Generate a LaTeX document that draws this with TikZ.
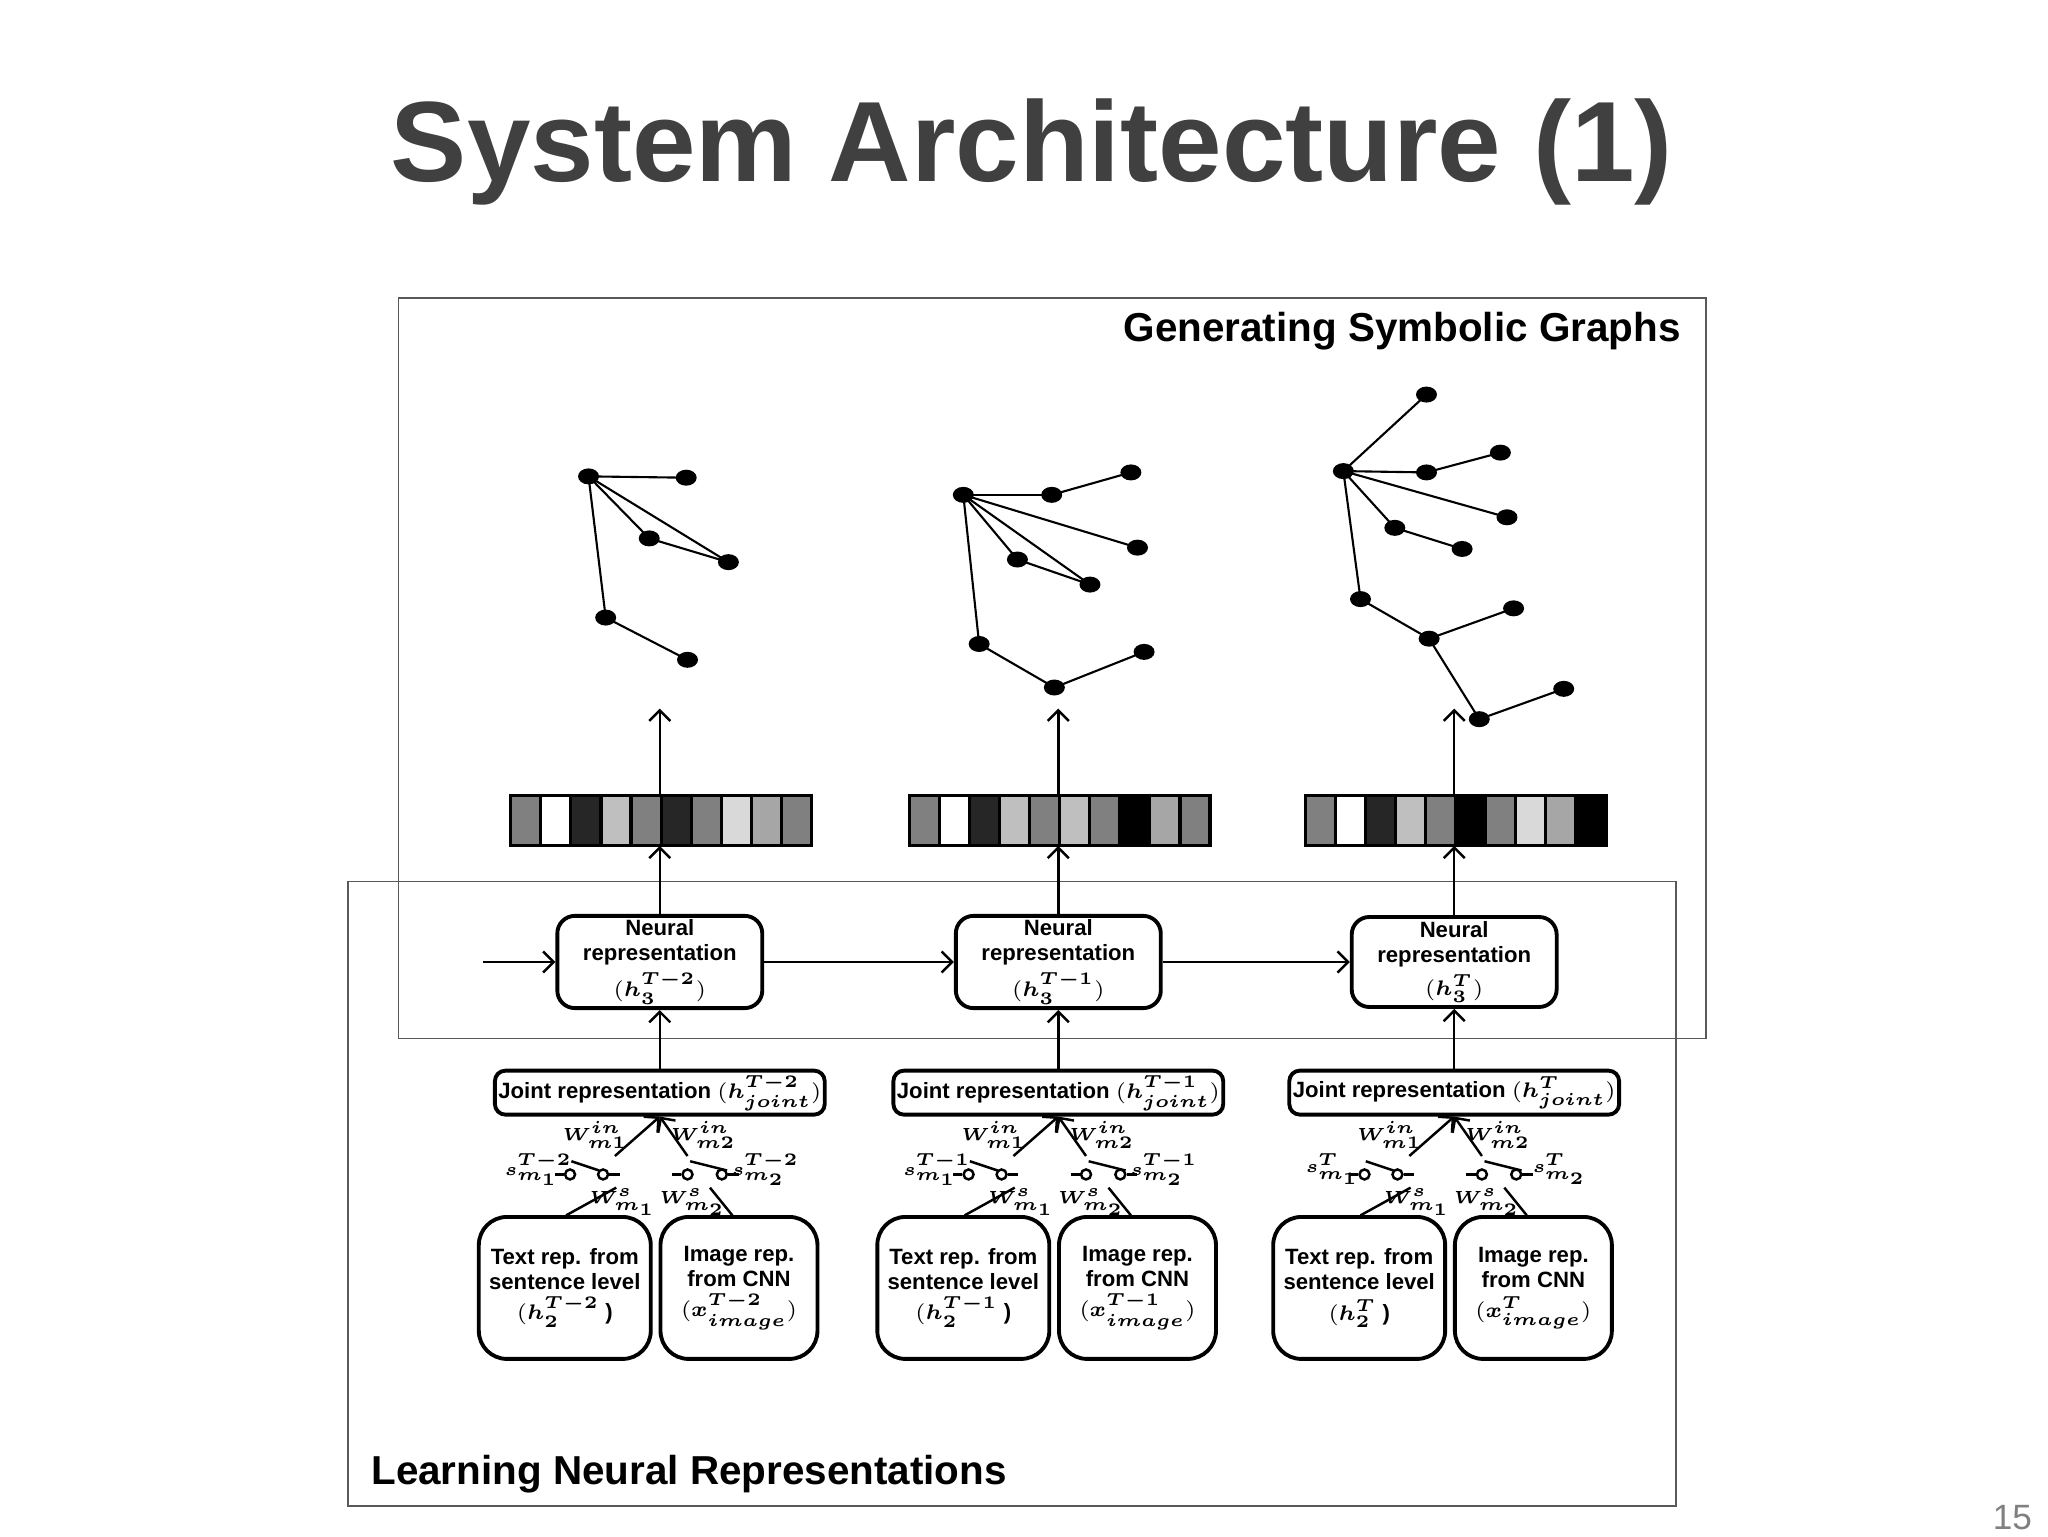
\documentclass[tikz,border=0pt]{standalone}
\usepackage{bm}
\usepackage{amsmath}
\usepackage{fontspec}
\setmainfont{Liberation Sans}
\usetikzlibrary{shapes.geometric}
\tikzset{>=latex}
\definecolor{titlegray}{RGB}{64,64,64}
\tikzset{
    rbox/.style={draw, line width=1.1pt, rounded corners=5pt, align=center, inner sep=1pt,
        font=\fontsize{6.3}{7.1}\selectfont\bfseries},
    gnode/.style={ellipse, fill=black, inner sep=0pt, minimum width=0.21cm, minimum height=0.16cm},
    conn/.style={line width=0.7pt, ->, >={Straight Barb[length=3pt,width=6pt]}},
    wlab/.style={font=\fontsize{4.2}{4.2}\selectfont, inner sep=0pt},
    swc/.style={circle, draw, line width=0.7pt, minimum size=0.1cm, inner sep=0pt}
}
\usetikzlibrary{arrows.meta}
\begin{document}
\begin{tikzpicture}[x=0.013196cm, y=-0.013196cm]
    \useasboundingbox (0,0) rectangle (1552,1164);

    % Title and frames
    \node[font=\fontsize{32.5}{34}\selectfont\bfseries, text=titlegray] (title) at (782,115) {System Architecture (1)};
    \draw[line width=0.5pt, gray!70!black] (302,226) rectangle (1293,787);
    \draw[line width=0.5pt, gray!70!black] (264,668) rectangle (1270,1141);
    \node[font=\fontsize{11.5}{12}\selectfont\bfseries, anchor=east] (gsg) at (1283,251) {Generating Symbolic Graphs};
    \node[font=\fontsize{11.5}{12}\selectfont\bfseries, anchor=west] (lnr) at (272,1117) {Learning Neural Representations};
    \node[font=\fontsize{10}{10}\selectfont, text=gray] (pg) at (1525,1150) {15};

    % Columns
    \foreach \c/\cx/\st/\cols in {1/500/{T-2}/{50,100,15,75,50,15,50,85,65,50},
                                  2/802/{T-1}/{50,100,15,75,50,75,50,0,65,50},
                                  3/1102/{T}/{50,100,15,75,50,0,50,85,65,0}}{
        \node[rbox, minimum width=2.05cm, minimum height=0.9cm] (neur\c) at (\cx,729)
            {Neural\\representation\\[1pt]$(\bm{h_3^{\st}})$};
        \node[rbox, rounded corners=3pt, minimum width=2.9cm, minimum height=0.44cm] (joint\c) at (\cx,828)
            {Joint representation $(\bm{h^{\st}_{joint}})$};
        \node[rbox, rounded corners=8pt, minimum width=1.72cm, minimum height=1.42cm] (text\c) at (\cx-72,976)
            {Text rep. from\\sentence level\\[1.5pt]$(\bm{h_2^{\st}}$ )};
        \node[rbox, rounded corners=8pt, minimum width=1.57cm, minimum height=1.42cm] (img\c) at (\cx+60,976)
            {Image rep.\\from CNN\\[1.5pt]$(\bm{x^{\st}_{image}})$};
        % state vector
        \foreach \g [count=\k from 0] in \cols {
            \draw[line width=0.9pt, fill=white!\g!black] (\cx-113+22.8*\k,603) rectangle ++(22.8,38);
        }
        \coordinate (vb\c) at (\cx,641);
        \coordinate (vt\c) at (\cx,537);
        \draw[conn] (neur\c) -- (vb\c);
        \draw[conn] (\cx,603) -- (vt\c);
        \draw[conn] (joint\c) -- (neur\c);
        % switches
        \node[swc] (sa\c) at (\cx-68,890) {};
        \node[swc] (sb\c) at (\cx-43,890) {};
        \node[swc] (sc\c) at (\cx+21,890) {};
        \node[swc] (sd\c) at (\cx+47,890) {};
        \draw[line width=0.7pt] (sa\c.west) -- ++(-7,0) (sb\c.east) -- ++(8,0);
        \draw[line width=0.7pt] (sc\c.west) -- ++(-7,0) (sd\c.east) -- ++(8,0);
        \draw[line width=0.7pt] (\cx-67,880) -- (\cx-46,887);
        \draw[line width=0.7pt] (\cx+23,880) -- (\cx+51,887);
        \coordinate (ja\c) at (\cx-34,876);
        \coordinate (jb\c) at (\cx+21,876);
        \draw[conn] (ja\c) -- (joint\c.south);
        \draw[conn] (jb\c) -- (joint\c.south);
        \coordinate (la\c) at (\cx-33,900);
        \coordinate (lb\c) at (\cx+38,900);
        \draw[line width=0.7pt] (la\c) -- (\cx-71,921);
        \draw[line width=0.7pt] (lb\c) -- (\cx+55,921);
        \node[wlab] (wia\c) at (\cx-49,860) {$\bm{W^{in}_{m1}}$};
        \node[wlab] (wib\c) at (\cx+33,860) {$\bm{W^{in}_{m2}}$};
        \node[wlab] (ssa\c) at (\cx-92,886) {$\bm{s^{\st}_{m_1}}$};
        \node[wlab] (ssb\c) at (\cx+80,886) {$\bm{s^{\st}_{m_2}}$};
        \node[wlab] (wsa\c) at (\cx-28,911) {$\bm{W^{s}_{m_1}}$};
        \node[wlab] (wsb\c) at (\cx+25,911) {$\bm{W^{s}_{m_2}}$};
    }
    \coordinate (in0) at (366,729);
    \draw[conn] (in0) -- (neur1);
    \draw[conn] (neur1) -- (neur2);
    \draw[conn] (neur2) -- (neur3);

    % Graph 1
    \foreach \n/\p in {a/{446,361}, b/{520,362}, c/{492,408}, d/{552,426}, e/{459,468}, f/{521,500}}
        \node[gnode] (ga\n) at (\p) {};
    \foreach \u/\v in {a/b, a/c, a/d, c/d, a/e, e/f}
        \draw[line width=0.6pt] (ga\u.center) -- (ga\v.center);

    % Graph 2
    \foreach \n/\p in {a/{730,375}, b/{797,375}, c/{857,358}, d/{862,415}, e/{771,424}, f/{826,443}, g/{742,488}, h/{799,521}, i/{867,494}}
        \node[gnode] (gb\n) at (\p) {};
    \foreach \u/\v in {a/b, b/c, a/d, a/e, a/f, e/f, a/g, g/h, h/i}
        \draw[line width=0.6pt] (gb\u.center) -- (gb\v.center);

    % Graph 3
    \foreach \n/\p in {a/{1018,357}, b/{1081,299}, c/{1081,358}, d/{1137,343}, e/{1142,392}, f/{1057,400}, g/{1108,416}, h/{1031,454}, i/{1083,484}, j/{1147,461}, k/{1121,545}, l/{1185,522}}
        \node[gnode] (gc\n) at (\p) {};
    \foreach \u/\v in {a/b, a/c, c/d, a/e, a/f, f/g, a/h, h/i, i/j, i/k, k/l}
        \draw[line width=0.6pt] (gc\u.center) -- (gc\v.center);
\end{tikzpicture}
\end{document}
